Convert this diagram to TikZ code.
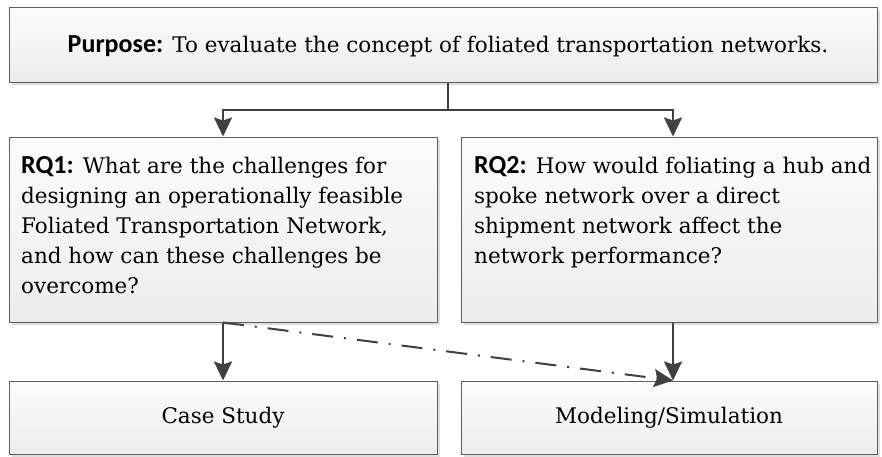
\documentclass[tikz,border=0pt]{standalone}
\usepackage{fontspec}
\setmainfont{DejaVu Serif}
\newfontfamily\calib{Carlito}
\usetikzlibrary{arrows.meta,shadows,positioning}

\definecolor{edge}{HTML}{404040}
\definecolor{boxtop}{HTML}{FCFCFC}
\definecolor{boxbot}{HTML}{ECECEC}

\newcommand{\lbl}[1]{{\fontsize{26}{30}\calib\bfseries #1}}

\begin{document}
\begin{tikzpicture}[x=1pt,y=-1pt,
  every node/.style={font=\fontsize{21.5}{30}\selectfont, inner sep=0pt},
  box/.style={draw=edge!85, line width=1pt, top color=boxtop, bottom color=boxbot,
    drop shadow={shadow xshift=3pt, shadow yshift=-3pt, fill=black!13, opacity=1}},
  flow/.style={draw=edge, line width=2.2pt, -{Stealth[length=19pt,width=18pt,inset=3pt]}},
  hint/.style={draw=edge, line width=2pt, dash pattern=on 21pt off 11pt on 2pt off 11pt,
    -{Stealth[length=19pt,width=18pt,inset=3pt]}},
  txt/.style={anchor=base west, align=left}]
  \useasboundingbox (0,0) rectangle (882,456);

  % boxes
  \node[box, minimum width=868pt, minimum height=75pt] (purpose) at (443,44.5) {};
  \node[box, minimum width=428pt, minimum height=185pt] (rq1) at (223,229.5) {};
  \node[box, minimum width=416pt, minimum height=185pt] (rq2) at (669,229.5) {};
  \node[box, minimum width=428pt, minimum height=73pt] (case) at (223,417.5) {Case Study};
  \node[box, minimum width=416pt, minimum height=73pt] (model) at (669,417.5) {Modeling/Simulation};

  % texts (base = last line)
  \node[anchor=base] (purposetext) at (448,52) {\lbl{Purpose:} To evaluate the concept of foliated transportation networks.};
  \node[txt] (rq1text) at (21,293) {\lbl{RQ1:} What are the challenges for\\ designing an operationally feasible\\ Foliated Transportation Network,\\ and how can these challenges be\\ overcome?};
  \node[txt] (rq2text) at (474,263) {\lbl{RQ2:} How would foliating a hub and\\ spoke network over a direct\\ shipment network affect the\\ network performance?};

  % connectors
  \coordinate (split) at (448,110);
  \draw[draw=edge, line width=2.2pt] (purpose.south -| split) -- (split);
  \draw[flow] (split) -| (rq1.north);
  \draw[flow] (split) -| ([xshift=4pt]rq2.north);
  \draw[flow] (rq1.south) -- (case.north);
  \draw[flow] ([xshift=4pt]rq2.south) -- ([xshift=4pt]model.north);
  \draw[hint] (rq1.south) -- ([xshift=4pt]model.north);
\end{tikzpicture}
\end{document}
